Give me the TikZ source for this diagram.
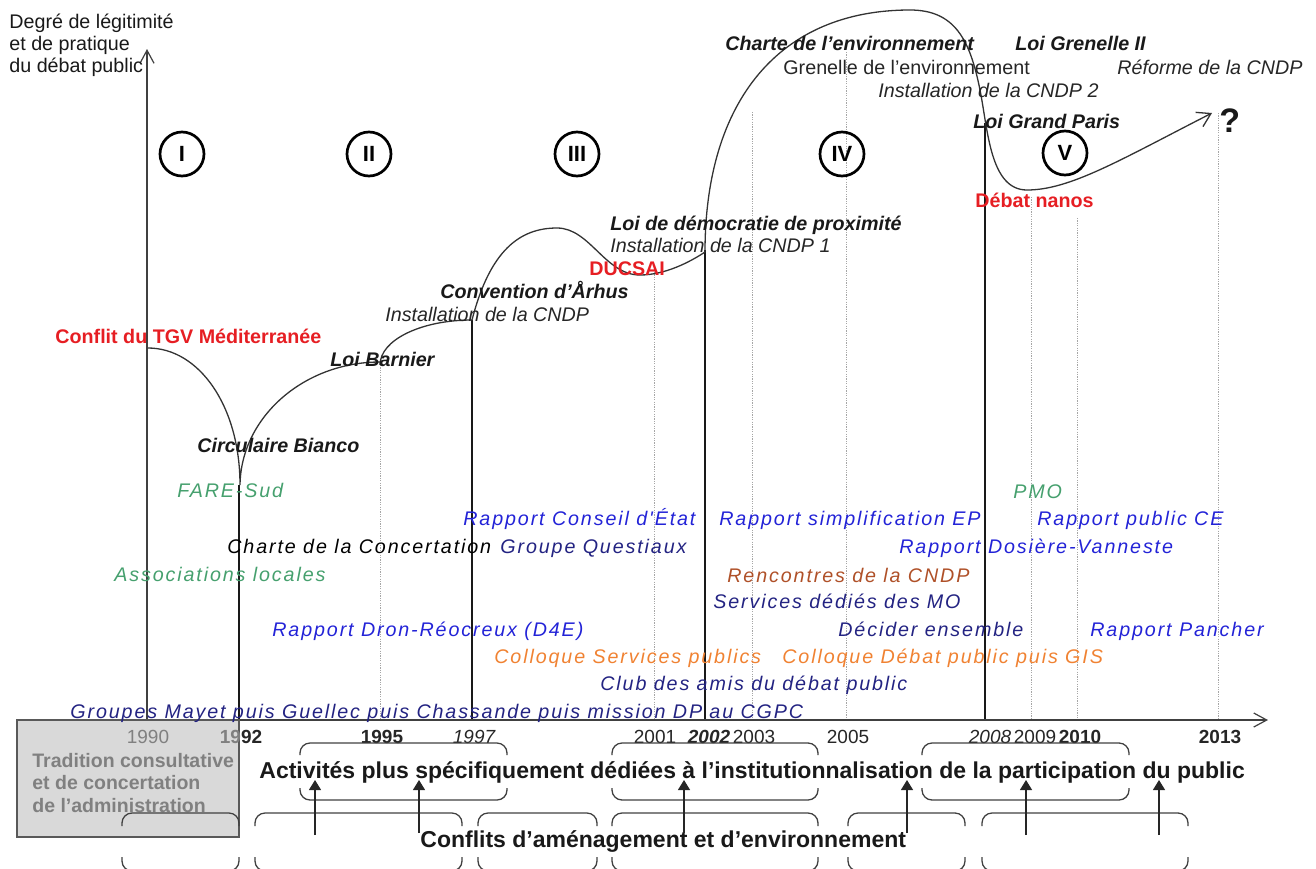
\documentclass[tikz,border=0pt]{standalone}
\usepackage{fontspec}
\setmainfont{Liberation Sans}
\newfontfamily\spacedfont[LetterSpace=9.5]{Liberation Sans}
\usetikzlibrary{arrows.meta}
\definecolor{tred}{RGB}{230,30,35}
\definecolor{tgreen}{RGB}{70,160,110}
\definecolor{tblue}{RGB}{35,35,215}
\definecolor{tnavy}{RGB}{35,35,130}
\definecolor{torange}{RGB}{240,130,50}
\definecolor{tbrown}{RGB}{175,80,40}
\definecolor{tboxfill}{RGB}{217,217,217}
\definecolor{tboxtext}{RGB}{128,128,128}
\begin{document}
\begin{tikzpicture}[x=0.5pt,y=-0.5pt,
  lab/.style={inner sep=0pt, anchor=base west, font=\fontsize{9.85}{11}\selectfont, text=black!90},
  bi/.style={lab, font=\fontsize{9.85}{11}\selectfont\bfseries\itshape},
  bo/.style={lab, font=\fontsize{9.85}{11}\selectfont\bfseries},
  it/.style={lab, font=\fontsize{9.85}{11}\selectfont\itshape, text=black!85},
  sp/.style={lab, font=\fontsize{9.85}{11}\spacedfont\itshape},
  yr/.style={inner sep=0pt, anchor=base, font=\fontsize{9.5}{10}\selectfont, text=black!85},
  circ/.style={circle, draw, line width=1.35pt, minimum size=22pt, inner sep=0pt, font=\fontsize{11}{11}\selectfont\bfseries},
  thickline/.style={line width=1.3pt, black!90},
  dotline/.style={draw=gray!70, line width=0.45pt, dash pattern=on 0.6pt off 0.6pt},
  axisline/.style={line width=0.6pt, black!75},
  brace/.style={draw=black!75, line width=0.65pt, rounded corners=5pt},
  uparrow/.style={line width=0.6pt, black!85, -{Triangle[length=5pt,width=6pt]}},
  boxtext/.style={inner sep=0pt, anchor=base west, font=\fontsize{9.75}{11}\selectfont\bfseries, text=tboxtext},
  rowtext/.style={inner sep=0pt, anchor=base west, font=\fontsize{11.5}{12}\selectfont\bfseries, text=black!90}
]
\useasboundingbox (0,0) rectangle (1316,868);

% vertical lines
\draw[dotline] (380,365) -- (380,720);
\draw[dotline] (654,272) -- (654,720);
\draw[dotline] (752,112) -- (752,720);
\draw[dotline] (846,52) -- (846,720);
\draw[dotline] (1031,197) -- (1031,720);
\draw[dotline] (1077,218) -- (1077,720);
\draw[dotline] (1218,113) -- (1218,720);
\draw[thickline] (239,485) -- (239,720);
\draw[thickline] (472,320) -- (472,720);
\draw[thickline] (705,250) -- (705,720);
\draw[thickline] (985,123) -- (985,720);

% axes
\coordinate (yaxis0) at (147,720);
\coordinate (yaxis1) at (147,49);
\coordinate (xaxis1) at (1268,720);
\draw[axisline, -{Straight Barb[length=6.5pt,width=7pt]}] (yaxis0) -- (yaxis1);
\draw[axisline, -{Straight Barb[length=6.5pt,width=7pt]}] (yaxis0) -- (xaxis1);

% curve
\draw[line width=0.65pt, black!80] (148,348) .. controls (199,348) and (240,406) .. (240,485)
  .. controls (241,417) and (304,362) .. (380,362);
\draw[line width=0.65pt, black!80] (380,365) .. controls (380,340) and (421,320) .. (472,320)
  .. controls (490,250) and (520,228) .. (557,228)
  .. controls (590,228) and (605,275) .. (640,275)
  .. controls (665,275) and (690,262) .. (705,252);
\draw[line width=0.65pt, black!80, -{Straight Barb[length=6.5pt,width=8pt]}] (705,252)
  .. controls (705,100) and (780,10) .. (910,10)
  .. controls (955,10) and (970,40) .. (980,90)
  .. controls (988,130) and (990,190) .. (1027,190)
  .. controls (1070,190) and (1120,160) .. (1212,113);

% circles
\node[circ] (c1) at (182,154) {I};
\node[circ] (c2) at (369,154) {II};
\node[circ] (c3) at (577,154) {III};
\node[circ] (c4) at (842,154) {IV};
\node[circ] (c5) at (1065,153) {V};

% y-axis label
\node[lab] (d1) at (9,28) {Degré de légitimité};
\node[lab] (d2) at (9,50) {et de pratique};
\node[lab] (d3) at (9,72) {du débat public};

% grey box
\draw[fill=tboxfill, draw=black!65, line width=0.6pt] (17,720) rectangle (239,837);
\node[boxtext] (b1) at (32,767) {Tradition consultative};
\node[boxtext] (b2) at (32,789) {et de concertation};
\node[boxtext] (b3) at (32,812) {de l’administration};

% year labels
\node[yr, text=tboxtext] (y1990) at (148,743) {1990};
\node[yr, font=\fontsize{9.5}{10}\selectfont\bfseries] (y1992) at (241,743) {\textcolor{tboxtext}{19}92};
\node[yr, font=\fontsize{9.5}{10}\selectfont\bfseries] (y1995) at (382,743) {1995};
\node[yr, font=\fontsize{9.5}{10}\selectfont\itshape] (y1997) at (474,743) {1997};
\node[yr] (y2001) at (655,743) {2001};
\node[yr, font=\fontsize{9.5}{10}\selectfont\bfseries\itshape] (y2002) at (709,743) {2002};
\node[yr] (y2003) at (754,743) {2003};
\node[yr] (y2005) at (848,743) {2005};
\node[yr, font=\fontsize{9.5}{10}\selectfont\itshape] (y2008) at (990,743) {2008};
\node[yr] (y2009) at (1035,743) {2009};
\node[yr, font=\fontsize{9.5}{10}\selectfont\bfseries] (y2010) at (1080,743) {2010};
\node[yr, font=\fontsize{9.5}{10}\selectfont\bfseries] (y2013) at (1220,743) {2013};

% braces
\foreach \a/\b in {300/507, 612/818, 922/1129} {
  \draw[brace] (\a,755) -- (\a,743) -- (\b,743) -- (\b,755);
  \draw[brace] (\a,788) -- (\a,800) -- (\b,800) -- (\b,788);
}
\foreach \a/\b in {122/239, 255/462, 478/597, 612/818, 848/965, 982/1188} {
  \draw[brace] (\a,826) -- (\a,813) -- (\b,813) -- (\b,826);
  \draw[brace] (\a,857) -- (\a,871) -- (\b,871) -- (\b,857);
}

% row texts
\node[rowtext] (rowA) at (259,778) {Activités plus spécifiquement dédiées à l’institutionnalisation de la participation du public};
\node[rowtext] (rowB) at (420,847) {Conflits d’aménagement et d’environnement};

% arrows from conflicts to institutionalisation
\foreach \x/\t in {315/835, 419/833, 684/833, 907/833, 1026/835, 1159/835} {
  \coordinate (s\x) at (\x,\t);
  \coordinate (e\x) at (\x,780);
  \draw[uparrow] (s\x) -- (e\x);
}

% event labels
\node[bo, text=tred] (l1) at (55,343) {Conflit du TGV Méditerranée};
\node[bi] (l2) at (330,366) {Loi Barnier};
\node[bi] (l3) at (197,452) {Circulaire Bianco};
\node[it] (l4) at (385,321) {Installation de la CNDP};
\node[bi] (l5) at (440,298) {Convention d’Århus};
\node[bo, text=tred] (l6) at (589,275) {DUCSAI};
\node[bi] (l7) at (610,230) {Loi de démocratie de proximité};
\node[it] (l8) at (610,252) {Installation de la CNDP 1};
\node[bi] (l9) at (725,50) {Charte de l’environnement};
\node[lab, text=black!85] (l10) at (783,74) {Grenelle de l’environnement};
\node[it] (l11) at (878,97) {Installation de la CNDP 2};
\node[bi] (l12) at (1015,50) {Loi Grenelle II};
\node[it] (l13) at (1117,74) {Réforme de la CNDP};
\node[bo, font=\fontsize{17}{18}\selectfont\bfseries] (l14) at (1219,132) {?};
\node[bi] (l15) at (973,128) {Loi Grand Paris};
\node[bo, text=tred] (l16) at (975,207) {Débat nanos};

% actors and reports
\node[sp, text=tgreen] (a1) at (177,497) {FARE-Sud};
\node[sp, text=tgreen] (a2) at (1013,498) {PMO};
\node[sp, text=black] (a3) at (227,553) {Charte de la Concertation};
\node[sp, text=tgreen] (a4) at (114,581) {Associations locales};
\node[sp, text=tblue] (a5) at (463,525) {Rapport Conseil d'État};
\node[sp, text=tblue] (a6) at (719,525) {Rapport simplification EP};
\node[sp, text=tblue] (a7) at (1037,525) {Rapport public CE};
\node[sp, text=tnavy] (a8) at (500,553) {Groupe Questiaux};
\node[sp, text=tblue] (a9) at (899,553) {Rapport Dosière-Vanneste};
\node[sp, text=tbrown] (a10) at (727,582) {Rencontres de la CNDP};
\node[sp, text=tnavy] (a11) at (713,608) {Services dédiés des MO};
\node[sp, text=tblue] (a12) at (272,636) {Rapport Dron-Réocreux (D4E)};
\node[sp, text=tnavy] (a13) at (838,636) {Décider ensemble};
\node[sp, text=tblue] (a14) at (1090,636) {Rapport Pancher};
\node[sp, text=torange] (a15) at (494,663) {Colloque Services publics};
\node[sp, text=torange] (a16) at (782,663) {Colloque Débat public puis GIS};
\node[sp, text=tnavy] (a17) at (600,690) {Club des amis du débat public};
\node[sp, text=tnavy] (a18) at (70,718) {Groupes Mayet puis Guellec puis Chassande puis mission DP au CGPC};
\end{tikzpicture}
\end{document}
